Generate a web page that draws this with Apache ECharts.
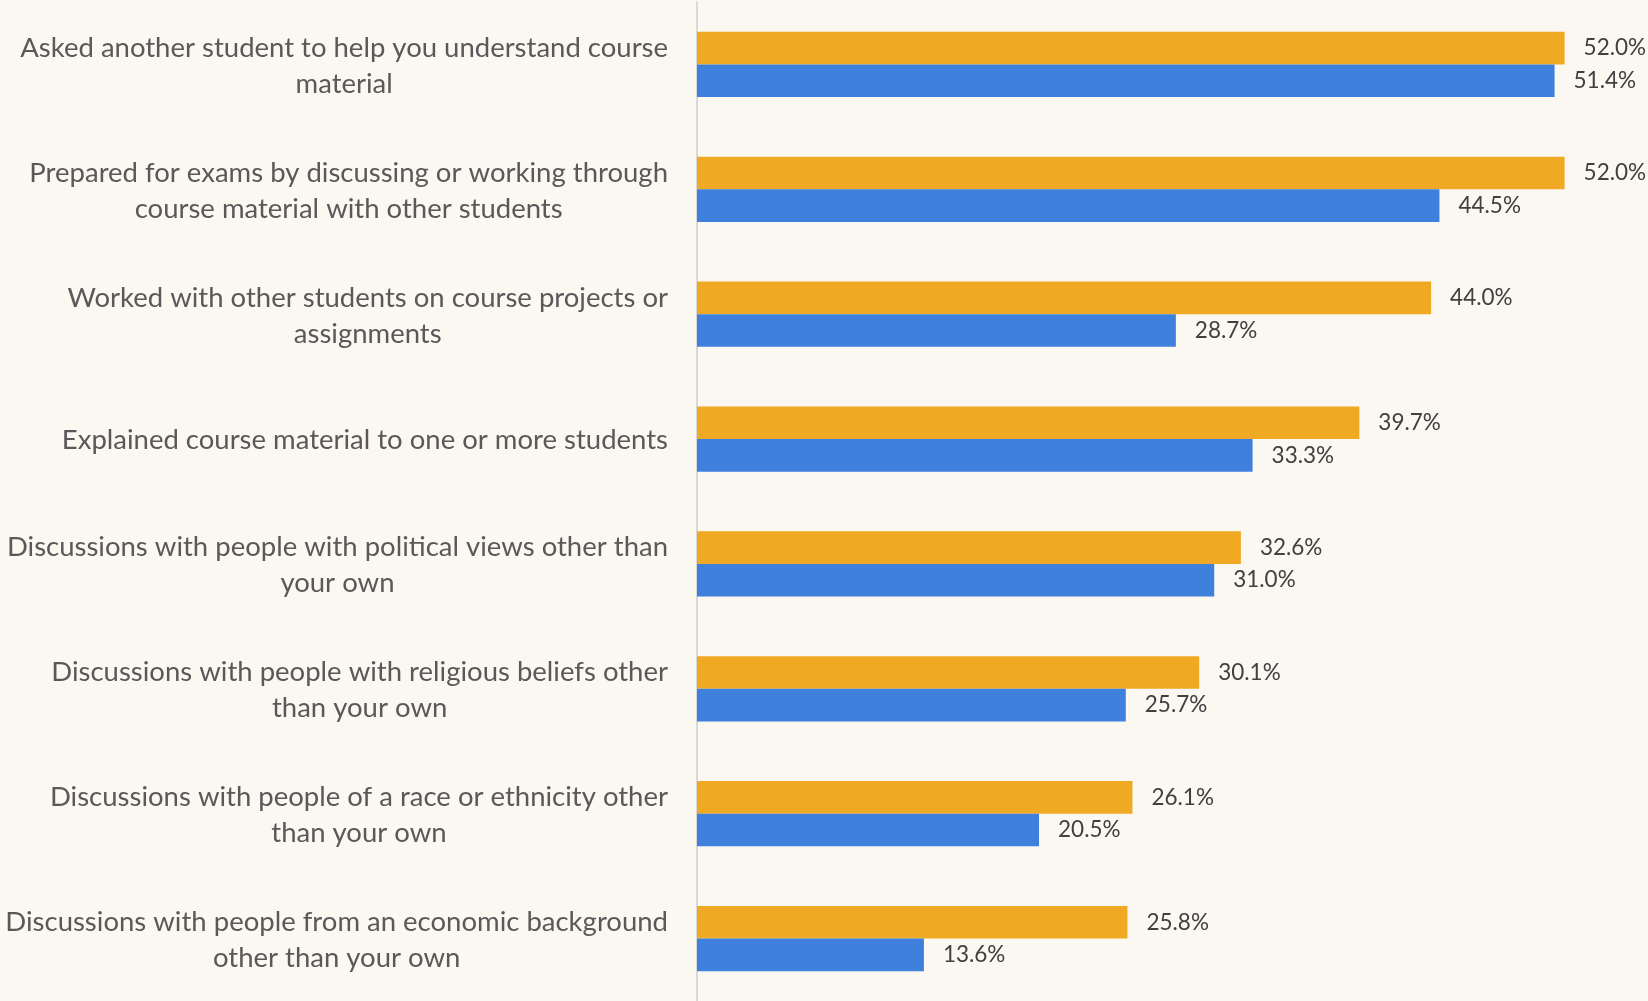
<!DOCTYPE html>
<html><head><meta charset="utf-8">
<script src="https://cdn.jsdelivr.net/npm/echarts@6/dist/echarts.min.js"></script>
<style>html,body{margin:0;padding:0;background:#FAF8F1;}#c{width:1648px;height:1001px;}</style>
</head><body><div id="c"></div>
<script>
const categories = [
  "Asked another student to help you understand course\nmaterial",
  "Prepared for exams by discussing or working through\ncourse material with other students",
  "Worked with other students on course projects or\nassignments",
  "Explained course material to one or more students",
  "Discussions with people with political views other than\nyour own",
  "Discussions with people with religious beliefs other\nthan your own",
  "Discussions with people of a race or ethnicity other\nthan your own",
  "Discussions with people from an economic background\nother than your own"
];
const seriesA = [52.0, 52.0, 44.0, 39.7, 32.6, 30.1, 26.1, 25.8];
const seriesB = [51.4, 44.5, 28.7, 33.3, 31.0, 25.7, 20.5, 13.6];

const chart = echarts.init(document.getElementById('c'));
const lbl = {
  show: true, position: 'right', distance: 19,
  color: '#404040', fontFamily: 'Lato', fontSize: 22.5,
  formatter: p => p.value.toFixed(1) + '%'
};
chart.setOption({
  backgroundColor: '#FAF8F1',
  animation: false,
  grid: { left: 697, right: 0, top: 2, bottom: 0, containLabel: false, outerBoundsMode: 'none' },
  xAxis: { type: 'value', min: 0, max: 57, show: false },
  yAxis: {
    type: 'category', data: categories, inverse: true,
    axisLine: { show: true, lineStyle: { color: '#D9D9D9', width: 2 } },
    axisTick: { show: false },
    axisLabel: {
      margin: 29, fontFamily: 'Lato', fontSize: 27.5, color: '#595959', lineHeight: 36,
      formatter: v => v.split('\n').map(s => '{c|' + s + '}').join('\n'),
      rich: { c: { align: 'center', fontFamily: 'Lato', fontSize: 27.5, color: '#595959', lineHeight: 36, padding: [3, 0, 0, 0] } }
    }
  },
  series: [
    { name: 'Group A', type: 'bar', data: seriesA, barWidth: 32.6, barGap: '0%',
      itemStyle: { color: '#F0A922' }, label: lbl },
    { name: 'Group B', type: 'bar', data: seriesB, barWidth: 32.6, barGap: '0%',
      itemStyle: { color: '#3F80DD' }, label: lbl }
  ]
});
</script></body></html>
